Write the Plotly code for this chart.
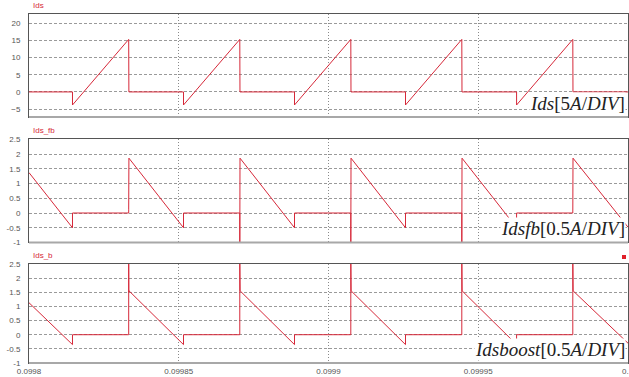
import plotly.graph_objects as go

# ---- data ----
ids_t = [0.0998, 0.09981452, 0.09981452, 0.09983329, 0.09983335,
         0.09985159, 0.09985159, 0.09987038, 0.09987044,
         0.09988865, 0.09988865, 0.09990745, 0.09990751,
         0.09992571, 0.09992571, 0.09994451, 0.09994457,
         0.09996280, 0.09996280, 0.09998157, 0.09998163, 0.1]
ids_y = [0, 0, -3.8, 15.3, 0,
         0, -3.8, 15.3, 0,
         0, -3.8, 15.3, 0,
         0, -3.8, 15.3, 0,
         0, -3.8, 15.3, 0, 0]

fb_t = [0.0998, 0.09981452, 0.09981452, 0.09983329, 0.09983329, 0.09983336,
        0.09985159, 0.09985159, 0.09987038, 0.09987038, 0.09987045,
        0.09988865, 0.09988865, 0.09990745, 0.09990745, 0.09990752,
        0.09992571, 0.09992571, 0.09994451, 0.09994451, 0.09994458,
        0.09996280, 0.09996280, 0.09998157, 0.09998157, 0.09998164, 0.1]
fb_y = [1.37, -0.5, 0, 0, 0.13, 1.86,
        -0.5, 0, 0, -1.2, 1.86,
        -0.5, 0, 0, -1.2, 1.86,
        -0.5, 0, 0, -1.2, 1.86,
        -0.5, 0, 0, 0.13, 1.86, -0.48]

b_t = [0.0998, 0.09981452, 0.09981452, 0.09983329, 0.09983329, 0.09983333, 0.09983340,
       0.09985159, 0.09985159, 0.09987038, 0.09987038, 0.09987042, 0.09987049,
       0.09988865, 0.09988865, 0.09990745, 0.09990745, 0.09990749, 0.09990756,
       0.09992571, 0.09992571, 0.09994451, 0.09994451, 0.09994455, 0.09994462,
       0.09996280, 0.09996280, 0.09998157, 0.09998157, 0.09998161, 0.09998168, 0.1]
b_y = [1.13, -0.35, 0, 0, 2.7, 1.5, 1.55,
       -0.35, 0, 0, 2.7, 1.5, 1.55,
       -0.35, 0, 0, 2.7, 1.5, 1.55,
       -0.35, 0, 0, 2.7, 1.5, 1.55,
       -0.35, 0, 0, 2.7, 1.5, 1.55, -0.3]

x_ticks = [0.0998, 0.09985, 0.0999, 0.09995, 0.1]
x_ticktext = ["0.0998", "0.09985", "0.0999", "0.09995", "0.1"]
y1_ticks = [-5, 0, 5, 10, 15, 20]
y2_ticks = [-1, -0.5, 0, 0.5, 1, 1.5, 2, 2.5]
y2_ticktext = ["-1", "-0.5", "0", "0.5", "1", "1.5", "2", "2.5"]

panel_titles = ["Ids", "Ids_fb", "Ids_b"]
panel_labels = ["<i>Ids</i>[5<i>A</i>/<i>DIV</i>]",
                "<i>Idsfb</i>[0.5<i>A</i>/<i>DIV</i>]",
                "<i>Idsboost</i>[0.5<i>A</i>/<i>DIV</i>]"]

RED = "#d62839"
domains = [[0.7049, 1.0], [0.3453, 0.641], [0.0, 0.2837]]

fig = go.Figure()
series = [(ids_t, ids_y), (fb_t, fb_y), (b_t, b_y)]
for i, (t, y) in enumerate(series):
    sfx = "" if i == 0 else str(i + 1)
    fig.add_trace(go.Scatter(x=t, y=y, mode="lines", xaxis="x" + sfx, yaxis="y" + sfx,
                             line=dict(color=RED, width=1), showlegend=False,
                             hoverinfo="skip"))

tickfont = dict(family="Liberation Sans, Arial", size=8, color="#555")
xcommon = dict(range=[0.0998, 0.1000000001], tickvals=x_ticks, ticktext=x_ticktext,
               showgrid=True, gridcolor="#8a8a8a", griddash="1px,2px", gridwidth=1,
               zeroline=False, showline=True, linecolor="#555", linewidth=1,
               mirror=True, ticks="", tickfont=tickfont, automargin=False)
ycommon = dict(showgrid=True, gridcolor="#9a9a9a", griddash="3px,2px", gridwidth=1,
               zeroline=False, showline=True, linecolor="#555", linewidth=1,
               mirror=True, ticks="", tickfont=tickfont, ticklabelstandoff=6)

layout = dict(width=629, height=377, margin=dict(l=29, r=1, t=14, b=14),
              paper_bgcolor="white", plot_bgcolor="white")
for i in range(3):
    sfx = "" if i == 0 else str(i + 1)
    xa = dict(xcommon, anchor="y" + sfx, domain=[0, 1], showticklabels=(i == 2))
    ya = dict(ycommon, anchor="x" + sfx, domain=domains[i])
    if i == 0:
        ya.update(range=[-7.3, 22.7], tickvals=y1_ticks)
    else:
        ya.update(range=[-1, 2.5], tickvals=y2_ticks, ticktext=y2_ticktext)
    if i > 0:
        xa["matches"] = "x"
    layout["xaxis" + sfx] = xa
    layout["yaxis" + sfx] = ya

annotations = []
shapes = []
for i in range(3):
    annotations.append(dict(text=panel_titles[i], xref="paper", yref="paper",
                            x=0.003, y=domains[i][1], xanchor="left", yanchor="bottom",
                            yshift=2, showarrow=False,
                            font=dict(family="Liberation Sans, Arial", size=8, color=RED)))
    annotations.append(dict(text=panel_labels[i], xref="paper", yref="paper",
                            x=0.997, y=domains[i][0], xanchor="right", yanchor="bottom",
                            yshift=2, showarrow=False, bgcolor="white", borderpad=0,
                            font=dict(family="Liberation Serif, DejaVu Serif, serif",
                                      size=19, color="#222")))
    shapes.append(dict(type="line", xref="paper", yref="paper", x0=0, x1=1,
                       y0=domains[i][0], y1=domains[i][0],
                       line=dict(color="#a8a8a8", width=2)))
# last tick label (cut off at the right edge, as in the reference)
annotations.append(dict(text=x_ticktext[-1], xref="x3", yref="paper",
                        x=x_ticks[-1], y=0, xanchor="center", yanchor="top",
                        yshift=-2, showarrow=False, font=tickfont))
shapes.append(dict(type="rect", xref="paper", yref="paper",
                   xsizemode="pixel", ysizemode="pixel",
                   xanchor=0.9933, yanchor=0.3037,
                   x0=-2, x1=2, y0=-2, y1=2,
                   fillcolor="#e0202a", line=dict(width=0)))
layout["annotations"] = annotations
layout["shapes"] = shapes

fig.update_layout(**layout)
fig.write_html("out.html")
